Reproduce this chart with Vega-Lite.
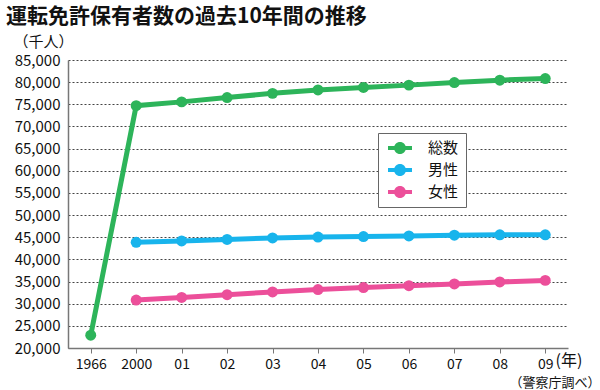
{
  "$schema": "https://vega.github.io/schema/vega-lite/v6.json",
  "width": 500,
  "height": 288,
  "autosize": {"type": "none"},
  "padding": {"left": 68, "top": 60, "right": 32, "bottom": 42},
  "background": "white",
  "title": {
    "text": "運転免許保有者数の過去10年間の推移",
    "anchor": "start",
    "frame": "group",
    "dx": -62,
    "dy": 22,
    "offset": 8,
    "baseline": "bottom",
    "fontSize": 21,
    "font": "Noto Sans CJK JP",
    "fontWeight": "bold",
    "color": "#111111"
  },
  "data": {
    "values": [
      {"year": "1966", "series": "総数", "value": 22900},
      {"year": "2000", "series": "総数", "value": 74690},
      {"year": "01", "series": "総数", "value": 75550},
      {"year": "02", "series": "総数", "value": 76530},
      {"year": "03", "series": "総数", "value": 77470},
      {"year": "04", "series": "総数", "value": 78250},
      {"year": "05", "series": "総数", "value": 78800},
      {"year": "06", "series": "総数", "value": 79330},
      {"year": "07", "series": "総数", "value": 79910},
      {"year": "08", "series": "総数", "value": 80450},
      {"year": "09", "series": "総数", "value": 80810},
      {"year": "2000", "series": "男性", "value": 43860},
      {"year": "01", "series": "男性", "value": 44150},
      {"year": "02", "series": "男性", "value": 44500},
      {"year": "03", "series": "男性", "value": 44830},
      {"year": "04", "series": "男性", "value": 45050},
      {"year": "05", "series": "男性", "value": 45150},
      {"year": "06", "series": "男性", "value": 45280},
      {"year": "07", "series": "男性", "value": 45460},
      {"year": "08", "series": "男性", "value": 45550},
      {"year": "09", "series": "男性", "value": 45550},
      {"year": "2000", "series": "女性", "value": 30830},
      {"year": "01", "series": "女性", "value": 31400},
      {"year": "02", "series": "女性", "value": 32030},
      {"year": "03", "series": "女性", "value": 32640},
      {"year": "04", "series": "女性", "value": 33200},
      {"year": "05", "series": "女性", "value": 33650},
      {"year": "06", "series": "女性", "value": 34050},
      {"year": "07", "series": "女性", "value": 34450},
      {"year": "08", "series": "女性", "value": 34900},
      {"year": "09", "series": "女性", "value": 35260}
    ]
  },
  "layer": [
    {
      "mark": {"type": "line", "strokeWidth": 5, "point": {"filled": true, "size": 120, "opacity": 1}},
      "encoding": {
        "x": {
          "field": "year",
          "type": "ordinal",
          "sort": ["1966", "2000", "01", "02", "03", "04", "05", "06", "07", "08", "09"],
          "scale": {"type": "point", "padding": 0.5},
          "axis": {
            "title": "(年)",
            "titleAlign": "left",
            "titleX": 487,
            "titleY": 12,
            "titleBaseline": "middle",
            "titleFontSize": 16,
            "titleFontWeight": "normal",
            "titleColor": "#111111",
            "labelAngle": 0,
            "labelFontSize": 14,
            "labelPadding": 4,
            "labelColor": "#111111",
            "tickSize": 5,
            "tickColor": "#777777",
            "domainColor": "#777777",
            "domainWidth": 1.5,
            "grid": false
          }
        },
        "y": {
          "field": "value",
          "type": "quantitative",
          "scale": {"domain": [20000, 85000], "nice": false, "zero": false},
          "axis": {
            "values": [20000, 25000, 30000, 35000, 40000, 45000, 50000, 55000, 60000, 65000, 70000, 75000, 80000, 85000],
            "labelExpr": "format(datum.value, ',')",
            "title": "（千人）",
            "titleAngle": 0,
            "titleX": -25,
            "titleY": -19,
            "titleAlign": "center",
            "titleBaseline": "middle",
            "titleFontSize": 15,
            "titleFontWeight": "normal",
            "titleColor": "#111111",
            "labelFontSize": 15,
            "labelPadding": 8,
            "labelColor": "#111111",
            "tickSize": 0,
            "domainColor": "#777777",
            "domainWidth": 1.5,
            "grid": true,
            "gridColor": "#444444",
            "gridDash": [2, 2],
            "gridWidth": 1
          }
        },
        "color": {
          "field": "series",
          "type": "nominal",
          "scale": {"domain": ["総数", "男性", "女性"], "range": ["#2db45a", "#18b4ec", "#ec4f9a"]},
          "legend": {
            "title": null,
            "orient": "none",
            "legendX": 310,
            "legendY": 73,
            "symbolType": "M-0.625,-0.25H2.375V0.25H-0.625Z M0.125,0A0.75,0.75 0 1,1 1.625,0A0.75,0.75 0 1,1 0.125,0Z",
            "symbolSize": 256,
            "padding": 7,
            "rowPadding": 6,
            "labelOffset": 27,
            "labelFontSize": 15,
            "labelColor": "#111111",
            "strokeColor": "#666666",
            "fillColor": "white",
            "encode": {
              "symbols": {
                "update": {
                  "fill": {"scale": "color", "field": "value"},
                  "strokeWidth": {"value": 0},
                  "opacity": {"value": 1}
                }
              }
            }
          }
        }
      }
    },
    {
      "mark": {"type": "point", "opacity": 0},
      "encoding": {
        "x": {
          "field": "year",
          "type": "ordinal",
          "sort": ["1966", "2000", "01", "02", "03", "04", "05", "06", "07", "08", "09"]
        },
        "y": {
          "field": "value",
          "type": "quantitative",
          "scale": {"domain": [20000, 85000], "nice": false, "zero": false},
          "axis": {
            "orient": "right",
            "title": "（警察庁調べ）",
            "titleAngle": 0,
            "titleX": 32,
            "titleY": 322,
            "titleAlign": "right",
            "titleBaseline": "middle",
            "titleFontSize": 13,
            "titleFontWeight": "normal",
            "titleColor": "#111111",
            "labels": false,
            "ticks": false,
            "domain": false,
            "grid": false
          }
        }
      }
    }
  ],
  "resolve": {"scale": {"y": "independent"}, "axis": {"y": "independent"}},
  "config": {"view": {"stroke": null}, "font": "Noto Sans CJK JP"}
}
